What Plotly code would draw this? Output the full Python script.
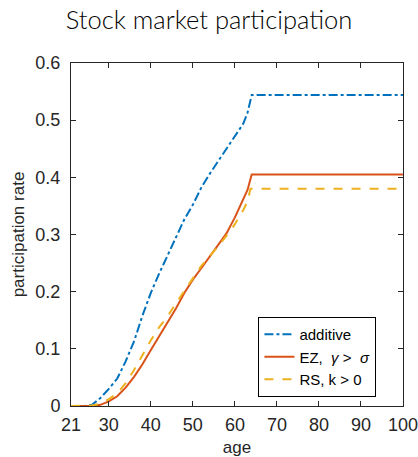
import plotly.graph_objects as go

# Age grid (years) and participation rates for each model
ages = [21, 24, 26, 28, 30, 32, 34, 36, 38, 40, 42, 44, 46, 48, 50,
        52, 54, 56, 58, 60, 62, 63, 64, 100]

additive = [0.0, 0.0, 0.002, 0.014, 0.030, 0.048, 0.078, 0.113, 0.158, 0.198,
            0.232, 0.264, 0.296, 0.327, 0.352, 0.382, 0.406, 0.428, 0.449,
            0.472, 0.494, 0.513, 0.544, 0.544]

ez = [0.0, 0.0, 0.0, 0.002, 0.008, 0.017, 0.032, 0.051, 0.073, 0.098,
      0.122, 0.145, 0.171, 0.198, 0.221, 0.241, 0.262, 0.281, 0.302,
      0.330, 0.360, 0.378, 0.405, 0.405]

rs_ages = [21, 24, 26, 28, 30, 32, 34, 36, 38, 40, 42, 44, 46, 48, 50,
           52, 54, 56, 58, 60, 62, 63, 63.7, 100]
rs = [0.0, 0.0, 0.001, 0.004, 0.012, 0.022, 0.040, 0.063, 0.090, 0.115,
      0.138, 0.157, 0.180, 0.202, 0.223, 0.245, 0.262, 0.279, 0.298,
      0.318, 0.343, 0.358, 0.380, 0.380]

x_ticks = [21, 30, 40, 50, 60, 70, 80, 90, 100]
y_ticks = [0, 0.1, 0.2, 0.3, 0.4, 0.5, 0.6]

axis_color = "#262626"

fig = go.Figure()
fig.add_trace(go.Scatter(x=ages, y=additive, mode="lines", name="additive",
                         line=dict(color="#0072BD", width=2, dash="dashdot")))
fig.add_trace(go.Scatter(x=ages, y=ez, mode="lines",
                         name="EZ,  <i>γ</i> >\u00a0\u00a0<i>σ</i>",
                         line=dict(color="#D95319", width=2)))
fig.add_trace(go.Scatter(x=rs_ages, y=rs, mode="lines", name="RS, k > 0",
                         line=dict(color="#EDB120", width=2, dash="dash")))

axis_common = dict(
    showgrid=False, zeroline=False, showline=True, linecolor=axis_color,
    linewidth=1, mirror="allticks", ticks="inside", ticklen=5,
    tickcolor=axis_color, ticklabeloverflow="allow", automargin=False,
    tickfont=dict(family="Liberation Sans", size=18, color=axis_color),
)

fig.update_layout(
    width=418, height=457,
    margin=dict(l=71, r=15, t=63, b=51),
    paper_bgcolor="white", plot_bgcolor="white",
    title=dict(text="Stock market participation", x=0.5, xanchor="center",
               y=0.955, yanchor="middle", automargin=False,
               font=dict(family="Lato", size=25.5, weight=300, color="black")),
    xaxis=dict(range=[21, 100], tickvals=x_ticks, ticklabelstandoff=2,
               title=dict(text="age", standoff=8,
                          font=dict(family="Liberation Sans", size=17,
                                    color=axis_color)),
               **axis_common),
    yaxis=dict(range=[0, 0.6], tickvals=y_ticks, ticklabelstandoff=6,
               title=dict(text="participation rate", standoff=6,
                          font=dict(family="Liberation Sans", size=17,
                                    color=axis_color)),
               **axis_common),
    legend=dict(x=0.92, xanchor="right", y=0.026, yanchor="bottom",
                bgcolor="white", bordercolor="black", borderwidth=1,
                font=dict(family="Liberation Sans", size=15, color="black"),
                tracegroupgap=0, itemwidth=30),
    showlegend=True,
)

fig.write_html("out.html")
